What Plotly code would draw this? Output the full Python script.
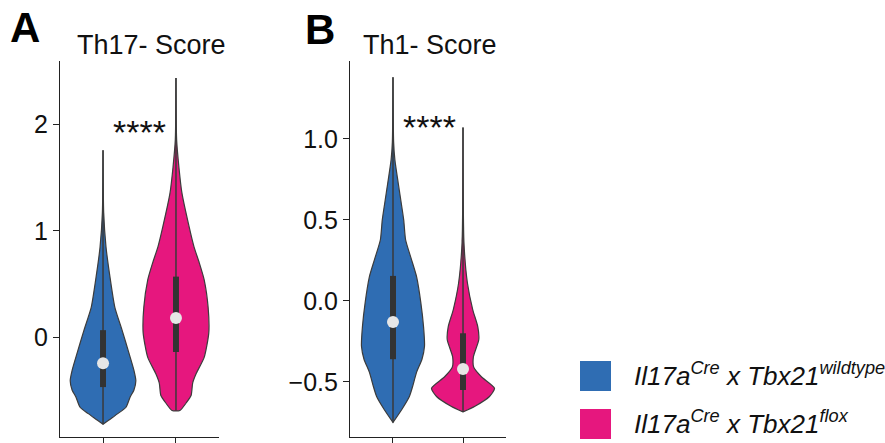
import plotly.graph_objects as go

# ---------------- data ----------------
groups = ["Il17aCre x Tbx21wildtype", "Il17aCre x Tbx21flox"]
panel_titles = ["Th17- Score", "Th1- Score"]
panel_letters = ["A", "B"]
significance = ["****", "****"]

# density profiles: score level -> relative width
th17_wt_levels = [-0.82, -0.78, -0.72, -0.66, -0.56, -0.50, -0.41, -0.31, -0.15, 0.066, 0.28, 0.57, 0.85, 1.17, 1.76]
th17_wt_density = [0.0, 0.18, 0.45, 0.70, 0.83, 0.94, 1.0, 0.94, 0.79, 0.58, 0.36, 0.21, 0.09, 0.02, 0.0]
th17_flox_levels = [-0.69, -0.62, -0.55, -0.43, -0.34, -0.19, 0.04, 0.28, 0.54, 0.70, 0.85, 1.04, 1.36, 1.60, 1.86, 2.44]
th17_flox_density = [0.12, 0.31, 0.46, 0.51, 0.62, 0.86, 1.0, 0.98, 0.86, 0.71, 0.55, 0.40, 0.18, 0.09, 0.02, 0.0]
th1_wt_levels = [-0.75, -0.67, -0.59, -0.53, -0.44, -0.36, -0.28, -0.16, -0.006, 0.148, 0.253, 0.377, 0.50, 0.67, 0.87, 0.98, 1.38]
th1_wt_density = [0.0, 0.28, 0.52, 0.62, 0.75, 0.92, 1.0, 0.97, 0.88, 0.75, 0.59, 0.40, 0.34, 0.21, 0.06, 0.02, 0.0]
th1_flox_levels = [-0.685, -0.65, -0.59, -0.54, -0.47, -0.41, -0.345, -0.24, -0.16, -0.055, 0.11, 0.36, 1.07]
th1_flox_density = [0.0, 0.38, 0.84, 1.0, 0.59, 0.34, 0.33, 0.50, 0.47, 0.31, 0.14, 0.03, 0.0]

# box stats: min, q1, median, q3, max
th17_wt_stats = [-0.82, -0.47, -0.245, 0.066, 1.76]
th17_flox_stats = [-0.69, -0.14, 0.18, 0.57, 2.44]
th1_wt_stats = [-0.75, -0.36, -0.13, 0.154, 1.38]
th1_flox_stats = [-0.685, -0.55, -0.42, -0.20, 1.07]

th17_ticks = [0, 1, 2]
th1_ticks = [-0.5, 0.0, 0.5, 1.0]

# ---------------- styling ----------------
colors = ["#2F6DB3", "#E6177E"]
outline = "#3c3c3c"
font_family = "Liberation Sans, Arial, sans-serif"
half_width = 0.45

panels = [
    dict(levels=[th17_wt_levels, th17_flox_levels], dens=[th17_wt_density, th17_flox_density],
         stats=[th17_wt_stats, th17_flox_stats], xa="x", ya="y"),
    dict(levels=[th1_wt_levels, th1_flox_levels], dens=[th1_wt_density, th1_flox_density],
         stats=[th1_wt_stats, th1_flox_stats], xa="x2", ya="y2"),
]

fig = go.Figure()
for p in panels:
    for i in range(2):
        lv, dn, st = p["levels"][i], p["dens"][i], p["stats"][i]
        xs = [i + d * half_width for d in dn] + [i - d * half_width for d in reversed(dn)]
        ys = list(lv) + list(reversed(lv))
        xs.append(xs[0]); ys.append(ys[0])
        fig.add_trace(go.Scatter(x=xs, y=ys, mode="lines", fill="toself", fillcolor=colors[i],
                                 line=dict(color=outline, width=1.2, shape="spline", smoothing=0.6),
                                 xaxis=p["xa"], yaxis=p["ya"], showlegend=False, hoverinfo="skip"))
        # whisker
        fig.add_trace(go.Scatter(x=[i, i], y=[st[0], st[4]], mode="lines",
                                 line=dict(color="#3a3a3a", width=1.5),
                                 xaxis=p["xa"], yaxis=p["ya"], showlegend=False, hoverinfo="skip"))
        # box
        fig.add_trace(go.Scatter(x=[i, i], y=[st[1], st[3]], mode="lines",
                                 line=dict(color="#333333", width=6),
                                 xaxis=p["xa"], yaxis=p["ya"], showlegend=False, hoverinfo="skip"))
        # median
        fig.add_trace(go.Scatter(x=[i], y=[st[2]], mode="markers",
                                 marker=dict(color="#E6E6E6", size=12, line=dict(width=0)),
                                 xaxis=p["xa"], yaxis=p["ya"], showlegend=False, hoverinfo="skip"))

W, H = 885, 443
ytop, ybot = 61, 437
ydom = [1 - ybot / H, 1 - ytop / H]

axis_common = dict(showline=True, linecolor="#222222", linewidth=1.2, ticks="outside",
                   ticklen=6, tickcolor="#222222", tickwidth=1.2, showgrid=False, zeroline=False,
                   tickfont=dict(family=font_family, size=25, color="#111111"))

fig.update_layout(
    width=W, height=H, margin=dict(l=0, r=0, t=0, b=0),
    paper_bgcolor="white", plot_bgcolor="white",
    xaxis=dict(domain=[60 / W, 219 / W], range=[-0.59, 1.59], tickvals=[0, 1], showticklabels=False,
               anchor="y", **axis_common),
    yaxis=dict(domain=ydom, range=[-0.94, 2.60], tickvals=th17_ticks, anchor="x", **axis_common),
    xaxis2=dict(domain=[350 / W, 506 / W], range=[-0.614, 1.614], tickvals=[0, 1], showticklabels=False,
                anchor="y2", **axis_common),
    yaxis2=dict(domain=ydom, range=[-0.84, 1.48], tickvals=th1_ticks, tickformat=".1f", anchor="x2",
                **axis_common),
    showlegend=False,
)

ann = []
# panel titles
ann.append(dict(text=panel_titles[0], x=151 / W, y=1 - 45 / H, xref="paper", yref="paper",
                xanchor="center", yanchor="middle", showarrow=False,
                font=dict(family=font_family, size=27, color="#111111")))
ann.append(dict(text=panel_titles[1], x=430 / W, y=1 - 45 / H, xref="paper", yref="paper",
                xanchor="center", yanchor="middle", showarrow=False,
                font=dict(family=font_family, size=27, color="#111111")))
# panel letters
ann.append(dict(text="<b>%s</b>" % panel_letters[0], x=8 / W, y=1 - 28 / H, xref="paper", yref="paper",
                xanchor="left", yanchor="middle", showarrow=False,
                font=dict(family=font_family, size=42, color="#000000")))
ann.append(dict(text="<b>%s</b>" % panel_letters[1], x=303 / W, y=1 - 29 / H, xref="paper", yref="paper",
                xanchor="left", yanchor="middle", showarrow=False,
                font=dict(family=font_family, size=42, color="#000000")))
# significance
ann.append(dict(text=significance[0], x=0.5, y=1.93, xref="x", yref="y", xanchor="center",
                yanchor="middle", showarrow=False, font=dict(family=font_family, size=34, color="#111111")))
ann.append(dict(text=significance[1], x=0.52, y=1.07, xref="x2", yref="y2", xanchor="center",
                yanchor="middle", showarrow=False, font=dict(family=font_family, size=34, color="#111111")))
# legend
legend_labels = ["<i>Il17a<sup>Cre</sup> x Tbx21<sup>wildtype</sup></i>",
                 "<i>Il17a<sup>Cre</sup> x Tbx21<sup>flox</sup></i>"]
shapes = []
for k, (lab, col) in enumerate(zip(legend_labels, colors)):
    yc = 376 + 48 * k
    shapes.append(dict(type="rect", xref="paper", yref="paper", x0=580 / W, x1=611 / W,
                       y0=1 - (yc + 15) / H, y1=1 - (yc - 15) / H, fillcolor=col, line=dict(width=0)))
    ann.append(dict(text=lab, x=632 / W, y=1 - (yc - 2) / H, xref="paper", yref="paper", xanchor="left",
                    yanchor="middle", showarrow=False, font=dict(family=font_family, size=26, color="#111111")))

fig.update_layout(annotations=ann, shapes=shapes)
fig.write_html("out.html", config={"displayModeBar": False},
               post_script="document.body.style.margin='0';document.body.style.overflow='hidden';")
